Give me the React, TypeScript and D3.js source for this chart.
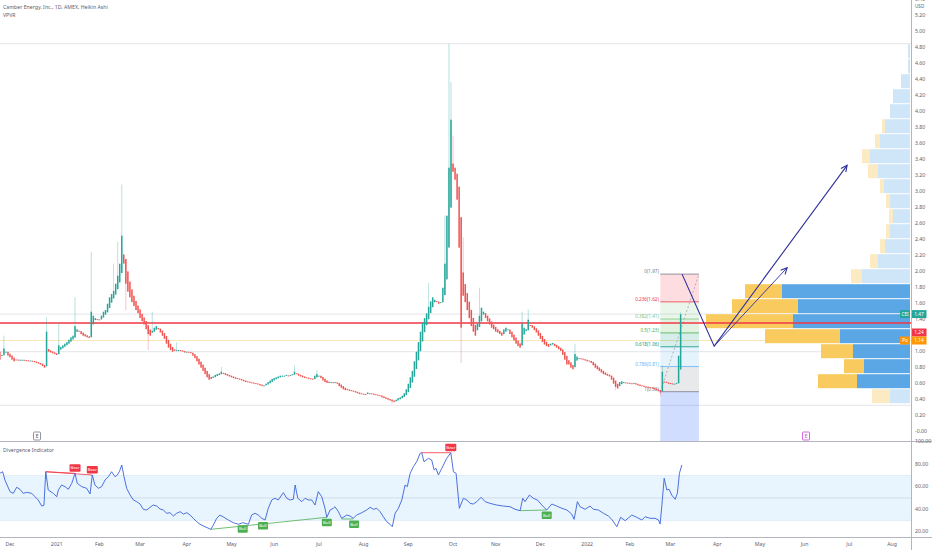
import * as d3 from 'd3'

const W = 932
const H = 550

// Heikin Ashi closes, one per trading day from 2020-11-23
const closes = [
  0.98, 0.90, 0.96, 1.04, 1.00, 0.95,
  0.93, 0.90, 0.88, 0.90, 0.89,
  0.90, 0.90, 0.89, 0.89, 0.88,
  0.89, 0.88, 0.87, 0.86, 0.85,
  0.84, 0.82, 0.80, 1.25, 1.00,
  0.99, 0.98, 0.97, 0.96, 1.08,
  1.06, 1.08, 1.10, 1.12, 1.15,
  1.18, 1.20, 1.32, 1.28, 1.25,
  1.22, 1.20, 1.19, 1.18, 1.17,
  1.50, 1.45, 1.42, 1.40, 1.40,
  1.45, 1.50, 1.52, 1.60, 1.68,
  1.72, 1.76, 1.85, 1.95, 2.10,
  2.45, 2.10, 1.85, 1.75, 1.68,
  1.62, 1.57, 1.52, 1.48, 1.42,
  1.38, 1.34, 1.28, 1.22, 1.20,
  1.26, 1.30, 1.32, 1.28, 1.24,
  1.20, 1.16, 1.10, 1.05, 1.02,
  1.00, 1.01, 1.02, 1.02, 1.01,
  1.00, 0.99, 1.00, 0.99, 0.98,
  0.95, 0.92, 0.88, 0.84, 0.80,
  0.76, 0.72, 0.68, 0.65, 0.66,
  0.69, 0.71, 0.72, 0.73, 0.75,
  0.73, 0.71, 0.70, 0.69, 0.68,
  0.67, 0.66, 0.66, 0.65, 0.64,
  0.63, 0.62, 0.62, 0.61, 0.61,
  0.60, 0.60, 0.59, 0.58, 0.57,
  0.58, 0.60, 0.62, 0.64, 0.66,
  0.67, 0.68, 0.69, 0.70, 0.70,
  0.70, 0.71, 0.70, 0.71, 0.72,
  0.75, 0.72, 0.70, 0.69, 0.68,
  0.67, 0.67, 0.66, 0.66, 0.65,
  0.70, 0.72, 0.70, 0.67, 0.64,
  0.62, 0.61, 0.61, 0.62, 0.61,
  0.62, 0.60, 0.57, 0.55, 0.53,
  0.52, 0.52, 0.51, 0.51, 0.50,
  0.49, 0.48, 0.47, 0.47, 0.47,
  0.47, 0.49, 0.48, 0.47, 0.46,
  0.46, 0.45, 0.45, 0.43, 0.42,
  0.41, 0.40, 0.39, 0.38, 0.37,
  0.40, 0.42, 0.43, 0.45, 0.48,
  0.53, 0.60, 0.68, 0.76, 0.88,
  1.00, 1.12, 1.25, 1.36, 1.42,
  1.48, 1.56, 1.63, 1.68, 1.65,
  1.62, 1.60, 1.62, 1.80, 2.10,
  2.70, 3.30, 3.90, 3.25, 3.15,
  2.90, 2.30, 1.30, 1.70, 1.62,
  1.52, 1.42, 1.32, 1.25, 1.20,
  1.35, 1.45, 1.55, 1.50, 1.42,
  1.38, 1.34, 1.30, 1.28, 1.25,
  1.24, 1.22, 1.20, 1.28, 1.30,
  1.28, 1.22, 1.18, 1.14, 1.10,
  1.07, 1.05, 1.35, 1.30, 1.28,
  1.40, 1.33, 1.30, 1.27, 1.24,
  1.20, 1.16, 1.12, 1.09, 1.07,
  1.06, 1.10, 1.11, 1.07, 1.05,
  1.03, 1.01, 0.96, 0.90, 0.84,
  0.84, 0.80, 0.78, 0.97, 0.94,
  0.92, 0.91, 0.90, 0.89, 0.88,
  0.88, 0.86, 0.83, 0.80, 0.78,
  0.76, 0.74, 0.72, 0.71, 0.70,
  0.69, 0.65, 0.60, 0.56, 0.54,
  0.62, 0.63, 0.62, 0.61, 0.61,
  0.60, 0.60, 0.61, 0.59, 0.58,
  0.57, 0.57, 0.56, 0.56, 0.55,
  0.55, 0.54, 0.53, 0.52, 0.51,
  0.49, 0.75, 0.62, 0.61, 0.60,
  0.60, 0.59, 0.60, 0.61, 0.95, 1.47,
]
const firstOpen = 1.02

// wick extremes [bar, price]
const highs: [number, number][] = [
  [3, 1.2], [24, 1.43], [30, 1.36], [38, 1.68], [46, 2.25], [57, 2.1], [59, 2.37],
  [61, 3.09], [76, 1.5], [88, 1.12], [110, 0.81], [146, 0.83], [157, 0.77],
  [212, 1.86], [220, 2.7], [222, 4.85], [223, 4.37], [224, 3.7], [229, 2.43],
  [237, 1.8], [258, 1.5], [261, 1.53], [284, 1.1], [327, 0.83], [336, 1.49],
]
const lows: [number, number][] = [
  [63, 1.52], [74, 1.02], [194, 0.35], [228, 0.86], [304, 0.52], [326, 0.45],
]

// divergence indicator [bar, value]
const osc: [number, number][] = [
  [1.1, 71.9], [2.4, 73.3], [3.5, 66.0], [6, 55.6], [7.6, 54.1], [9.3, 59.5], [10.9, 57.7],
  [12.5, 54.1], [14.2, 55.0], [16.7, 54.1], [18.3, 51.1], [19.9, 48.2], [21.6, 42.8],
  [22.7, 43.5], [23.6, 73.3], [24.8, 57.1], [27.3, 54.1], [29, 51.1], [29.8, 57.1],
  [31.4, 61.5], [33.1, 60.0], [34.7, 57.7], [36.4, 63.0], [38, 71.9], [39.1, 63.0],
  [41.3, 60.0], [43.7, 58.6], [45.4, 53.5], [46.5, 70.4], [47.8, 61.5], [49.5, 58.6],
  [51.1, 60.0], [52.8, 66.0], [54.4, 68.9], [56, 73.3], [57.7, 68.9], [58.8, 70.4],
  [59.8, 73.3], [61, 79.3], [62.1, 68.9], [63.4, 58.6], [65.1, 52.6], [66.7, 48.2],
  [68.4, 46.7], [70, 44.6], [71.6, 39.9], [73.3, 39.3], [74.9, 41.7], [76.5, 43.7],
  [78.2, 42.8], [79.8, 40.2], [81.4, 39.3], [83.1, 36.4], [84.7, 36.9], [86.4, 34.0],
  [88, 36.4], [89.7, 37.8], [91.3, 35.7], [93, 36.9], [94.6, 34.8], [96.2, 31.9],
  [97.9, 28.9], [99.5, 26.6], [102, 24.4], [104.8, 22.1], [106.1, 26.0], [107.7, 31.9],
  [109.3, 34.8], [111.3, 32.8], [113.4, 30.4], [115.9, 28.0], [118.4, 26.6], [120.5, 28.0],
  [121.7, 27.5], [123.3, 26.6], [124.9, 34.8], [126.6, 36.4], [128.2, 34.8], [129.9, 31.9],
  [131.5, 30.4], [133.1, 40.8], [134.8, 48.2], [136.4, 49.7], [138, 48.2], [140.5, 54.7],
  [142.2, 49.7], [143.8, 48.2], [145.4, 48.8], [146.3, 61.5], [147.6, 49.7], [149.6, 46.7],
  [151.2, 49.7], [152.8, 48.2], [154.5, 48.2], [156.1, 43.7], [157.7, 55.6], [159.4, 51.1],
  [161, 40.8], [161.9, 32.8], [163.5, 39.3], [165.1, 40.8], [165.9, 42.2], [167.6, 37.8],
  [169.2, 31.9], [171.7, 34.8], [173.3, 34.0], [174.9, 31.9], [176.6, 34.8], [179.1, 36.9],
  [181.5, 39.3], [183.2, 41.7], [184.8, 39.9], [186.5, 40.8], [188.1, 37.8], [189.7, 33.3],
  [191.4, 28.9], [193, 26.6], [194.1, 24.4], [195.5, 36.4], [197.1, 40.8], [198.8, 48.2],
  [200.4, 61.5], [201.5, 60.0], [202.9, 71.9], [204.5, 77.8], [206.1, 82.2], [207.8, 89.7],
  [208.6, 90.2], [209.7, 82.2], [211.9, 85.2], [213.5, 83.7], [214.7, 74.8], [215.6, 76.4],
  [216.8, 70.4], [218.5, 76.4], [220.9, 85.2], [222.9, 90.2], [224.2, 73.3], [225.5, 71.9],
  [227.1, 40.8], [229.1, 49.7], [230.8, 48.2], [232.4, 45.2], [234, 44.6], [235.7, 46.7],
  [237.8, 50.6], [239.8, 46.7], [242.2, 45.2], [245.5, 43.7], [248.8, 42.8], [252.1, 42.2],
  [254.5, 39.9], [257, 38.7], [258.3, 49.7], [259.4, 46.7], [261.6, 52.6], [263.5, 49.7],
  [265.5, 48.2], [267.7, 43.7], [270.1, 39.3], [272.6, 44.6], [275, 42.8], [277.5, 40.8],
  [280, 39.3], [282.4, 35.7], [283.6, 31.0], [285.2, 46.7], [286.5, 42.2], [289, 39.9],
  [291.4, 42.8], [293.1, 39.9], [295.5, 39.3], [298, 36.4], [300.4, 34.0], [302.1, 31.0],
  [304.6, 24.4], [306.5, 32.8], [308.7, 29.8], [312, 34.8], [314.4, 32.8], [316.9, 30.4],
  [318.5, 33.3], [321, 31.9], [323.4, 31.9], [325.1, 30.4], [325.9, 26.8], [326.7, 42.2],
  [327.9, 67.5], [329.2, 57.1], [330.3, 57.7], [331.6, 52.6], [333.3, 48.8], [334.4, 54.1],
  [335.4, 71.9], [336.6, 79.3],
]
const bearLines: [number, number, number, number][] = [
  [23.6, 73.3, 38, 71.9], [23.6, 73.3, 46.5, 70.4], [208.6, 90.2, 222.9, 90.2],
]
const bullLines: [number, number, number, number][] = [
  [104.8, 22.1, 161.9, 32.8], [169.2, 31.3, 174.9, 31.3], [257, 38.7, 270.1, 39.3],
]
const bearLabels: [number, number][] = [[38, 71.9], [46.5, 70.4], [222.9, 90.2]]
const bullLabels: [number, number][] = [[120.5, 27], [130.5, 30], [161.9, 32.8], [175.3, 31.3], [270.1, 39.3]]

// visible range volume profile, 24 rows from 0.35, up / down volume
const vpStart = 0.35
const vpStep = 0.1875
const vpUp = [20, 53, 46, 57, 70, 117, 112, 128, 48, 32, 25, 20, 17, 20, 26, 32, 40, 30, 25, 20, 17, 9, 2, 2]
const vpDown = [18, 39, 20, 32, 75, 87, 66, 37, 11, 8, 5, 4, 4, 4, 4, 10, 8, 5, 3, 0, 0, 0, 0, 0]
const vpValueArea = [1, 7]

const fibLevels = [0, 0.236, 0.382, 0.5, 0.618, 0.786, 1]
const fibColors = ['#787b86', '#f23645', '#81c784', '#4caf50', '#089981', '#64b5f6', '#787b86']
const fibHigh = 1.97
const fibLow = 0.5
const fibBars = [326, 345]

const wave1: [number, number][] = [[336.7, 1.97], [352.5, 1.07], [417.9, 3.33]]
const wave2: [number, number][] = [[352.5, 1.07], [388.4, 2.05]]
const earnings = [19.3, 397.7]

const lastPrice = 1.47
const redLine = 1.36
const redLabel = 1.24
const pocPrice = 1.14
const grayLines = [4.85, 1.47, 1.0, 0.33]

const oscTicks = [100, 80, 60, 40, 20]

const FONT = '"Noto Sans", "DejaVu Sans", sans-serif'
const TXT = '#5d606b'

function barDate(i: number) {
  const d = new Date(2020, 10, 23)
  let n = 0
  while (n < i) {
    d.setDate(d.getDate() + 1)
    const wd = d.getDay()
    if (wd !== 0 && wd !== 6) n++
  }
  return new Date(d)
}

export default function App() {
  const x = d3.scaleLinear().domain([6, 440]).range([10, 892])
  const yP = d3.scaleLinear().domain([0, 5.4]).range([431.7, -0.3])
  const yO = d3.scaleLinear().domain([20, 100]).range([531.7, 441.7])
  const axisX = 911.5
  const paneBottom = 441.5
  const vpRight = 910
  const vx = d3.scaleLinear().domain([0, 204]).range([0, 204])

  const highMap = new Map(highs)
  const lowMap = new Map(lows)
  // Heikin Ashi open: midpoint of the previous body
  const candles: { i: number; o: number; c: number; hi: number; lo: number; up: boolean }[] = []
  closes.forEach((c, i) => {
    const o = i === 0 ? firstOpen : (candles[i - 1].o + candles[i - 1].c) / 2
    const hi = Math.max(o, c, highMap.get(i) ?? 0)
    const lo = Math.min(o, c, lowMap.get(i) ?? 99)
    candles.push({ i, o, c, hi, lo, up: c >= o })
  })

  const boxPrices = [lastPrice, redLabel, pocPrice]
  // axis labels hidden under the price boxes, as on the platform
  const priceTicks = d3.range(0, 28).map(k => +(k * 0.2).toFixed(2))
    .filter(p => boxPrices.every(b => Math.abs(yP(p) - yP(b)) > 5))

  const monthTicks: { i: number; label: string }[] = []
  let prevMonth = 10
  for (let i = 0; i <= 445; i++) {
    const d = barDate(i)
    if (d.getMonth() !== prevMonth) {
      prevMonth = d.getMonth()
      monthTicks.push({ i, label: d.getMonth() === 0 ? String(d.getFullYear()) : d3.timeFormat('%b')(d) })
    }
  }

  const oscLine = d3.line<[number, number]>().x(d => x(d[0])).y(d => yO(d[1]))
  const waveLine = d3.line<[number, number]>().x(d => x(d[0])).y(d => yP(d[1]))

  const arrowHead = (pts: [number, number][]) => {
    const a = pts[pts.length - 2]
    const b = pts[pts.length - 1]
    const x1 = x(a[0]), y1 = yP(a[1]), x2 = x(b[0]), y2 = yP(b[1])
    const ang = Math.atan2(y2 - y1, x2 - x1)
    const L = 7
    const p1 = [x2 - L * Math.cos(ang - 0.45), y2 - L * Math.sin(ang - 0.45)]
    const p2 = [x2 - L * Math.cos(ang + 0.45), y2 - L * Math.sin(ang + 0.45)]
    return `M${p1[0]},${p1[1]}L${x2},${y2}L${p2[0]},${p2[1]}`
  }

  const fibPrices = fibLevels.map(l => fibHigh - l * (fibHigh - fibLow))
  const fx1 = x(fibBars[0])
  const fx2 = x(fibBars[1])

  const priceBox = (p: number, color: string, label: string, tag?: string) => (
    <g key={label + (tag ?? '')}>
      {tag && (
        <g>
          <rect x={900} y={yP(p) - 4} width={10} height={8} fill={color} />
          <text x={905} y={yP(p) + 0.3} fontSize={4.6} fill="#fff" textAnchor="middle" dominantBaseline="middle">{tag}</text>
        </g>
      )}
      <rect x={axisX} y={yP(p) - 4} width={15} height={8} fill={color} />
      <text x={axisX + 7.5} y={yP(p) + 0.3} fontSize={4.8} fill="#fff" textAnchor="middle" dominantBaseline="middle">{label}</text>
    </g>
  )

  return (
    <div style={{ position: 'absolute', left: 0, top: 0 }}>
      <svg width={W} height={H} style={{ display: 'block', fontFamily: FONT }}>
        <rect width={W} height={H} fill="#fff" />

        {/* horizontal reference lines */}
        {grayLines.map(p => (
          <line key={p} x1={0} x2={axisX} y1={yP(p)} y2={yP(p)} stroke="#e3e5ea" strokeWidth={1} />
        ))}
        <line x1={0} x2={axisX} y1={yP(pocPrice)} y2={yP(pocPrice)} stroke="#fbe6b5" strokeWidth={1} />

        {/* volume profile */}
        {vpUp.map((u, k) => {
          const top = yP(vpStart + (k + 1) * vpStep) + 0.5
          const h = yP(vpStart + k * vpStep) - yP(vpStart + (k + 1) * vpStep) - 1
          const inVA = k >= vpValueArea[0] && k <= vpValueArea[1]
          const bw = vx(u)
          const dw = vx(vpDown[k])
          return (
            <g key={k}>
              <rect x={vpRight - bw} y={top} width={bw} height={h} fill={inVA ? '#5ba7e6' : '#cfe6f9'} />
              <rect x={vpRight - bw - dw} y={top} width={dw} height={h} fill={inVA ? '#f9cb5e' : '#fcebc2'} />
            </g>
          )
        })}

        {/* fib retracement */}
        {fibPrices.slice(1).map((p, k) => (
          <rect key={k} x={fx1} width={fx2 - fx1} y={yP(fibPrices[k])} height={yP(p) - yP(fibPrices[k])}
            fill={fibColors[k + 1]} opacity={0.17} />
        ))}
        <rect x={fx1} width={fx2 - fx1} y={yP(fibLow)} height={paneBottom - yP(fibLow)} fill="#2962ff" opacity={0.22} />
        {fibPrices.map((p, k) => (
          <g key={k}>
            <line x1={fx1} x2={fx2} y1={yP(p)} y2={yP(p)} stroke={fibColors[k]} strokeWidth={0.8} />
            <text x={fx1 - 1.5} y={yP(p) - 1} fontSize={4.6} fill={fibColors[k]} textAnchor="end">
              {`${fibLevels[k]}(${p.toFixed(2)})`}
            </text>
          </g>
        ))}
        <line x1={fx1} y1={yP(fibLow)} x2={fx2} y2={yP(fibHigh)} stroke="#9598a1" strokeWidth={0.7} strokeDasharray="2,2" />

        {/* red horizontal line */}
        <line x1={0} x2={axisX} y1={yP(redLine)} y2={yP(redLine)} stroke="#f23645" strokeWidth={1.5} />

        {/* candles */}
        {candles.map(d => {
          const col = d.up ? '#26a69a' : '#ef5350'
          const top = yP(Math.max(d.o, d.c))
          const bot = yP(Math.min(d.o, d.c))
          return (
            <g key={d.i}>
              {(d.hi > Math.max(d.o, d.c) || d.lo < Math.min(d.o, d.c)) && (
                <line x1={x(d.i)} x2={x(d.i)} y1={yP(d.hi)} y2={yP(d.lo)} stroke={col} strokeWidth={0.6} opacity={0.55} />
              )}
              <rect x={x(d.i) - 0.75} width={1.5} y={top} height={Math.max(1, bot - top)} fill={col} />
            </g>
          )
        })}

        {/* projection arrows */}
        <path d={waveLine(wave1) ?? ''} fill="none" stroke="#2e2f9c" strokeWidth={1.1} />
        <path d={arrowHead(wave1)} fill="none" stroke="#2e2f9c" strokeWidth={1.1} />
        <path d={waveLine(wave2) ?? ''} fill="none" stroke="#2e2f9c" strokeWidth={0.9} />
        <path d={arrowHead(wave2)} fill="none" stroke="#2e2f9c" strokeWidth={1.1} />

        {/* earnings marks */}
        {earnings.map((e, k) => (
          <g key={e}>
            <rect x={x(e) - 3.5} y={432} width={7} height={8} rx={1} fill="#fff"
              stroke={k === 0 ? '#787b86' : '#c43fd6'} strokeWidth={0.8} />
            <text x={x(e)} y={436.3} fontSize={5} textAnchor="middle" dominantBaseline="middle"
              fill={k === 0 ? '#50535e' : '#c43fd6'}>E</text>
          </g>
        ))}

        {/* header */}
        <text x={3} y={9} fontSize={5.2} fill={TXT}>Camber Energy, Inc., 1D, AMEX, Heikin Ashi</text>
        <text x={3} y={17} fontSize={5.2} fill={TXT}>VPVR</text>

        {/* price axis */}
        {priceTicks.map(p => (
          <text key={p} x={915} y={yP(p)} fontSize={5.2} fill={TXT} dominantBaseline="middle">
            {p === 0 ? '-0.00' : p.toFixed(2)}
          </text>
        ))}
        <text x={915} y={8} fontSize={4.6} fill={TXT}>USD</text>
        {priceBox(lastPrice, '#26a69a', lastPrice.toFixed(2), 'CEI')}
        {priceBox(redLabel, '#f23645', redLabel.toFixed(2))}
        {priceBox(pocPrice, '#ff9800', pocPrice.toFixed(2), 'Po')}

        {/* lower pane */}
        <line x1={0} x2={W} y1={paneBottom} y2={paneBottom} stroke="#b2b5be" strokeWidth={1} />
        <rect x={0} width={axisX} y={yO(70)} height={yO(30) - yO(70)} fill="#2196f3" opacity={0.1} />
        <line x1={0} x2={axisX} y1={yO(70)} y2={yO(70)} stroke="#d6e6f7" strokeWidth={0.6} />
        <line x1={0} x2={axisX} y1={yO(30)} y2={yO(30)} stroke="#d6e6f7" strokeWidth={0.6} />
        <line x1={0} x2={axisX} y1={yO(50)} y2={yO(50)} stroke="#c3cfdc" strokeWidth={0.6} />
        <text x={3} y={451.5} fontSize={5.2} fill={TXT}>Divergence Indicator</text>
        {bearLines.map((b, k) => (
          <line key={k} x1={x(b[0])} y1={yO(b[1])} x2={x(b[2])} y2={yO(b[3])} stroke="#f23645" strokeWidth={0.8} />
        ))}
        {bullLines.map((b, k) => (
          <line key={k} x1={x(b[0])} y1={yO(b[1])} x2={x(b[2])} y2={yO(b[3])} stroke="#4caf50" strokeWidth={0.8} />
        ))}
        <path d={oscLine(osc) ?? ''} fill="none" stroke="#3a62d8" strokeWidth={0.9} />
        {bearLabels.map((b, k) => (
          <g key={k}>
            <rect x={x(b[0]) - 5.5} y={yO(b[1]) - 9} width={11} height={7.5} rx={1} fill="#f23645" />
            <text x={x(b[0])} y={yO(b[1]) - 5.1} fontSize={4.2} fill="#fff" textAnchor="middle" dominantBaseline="middle">Bear</text>
          </g>
        ))}
        {bullLabels.map((b, k) => (
          <g key={k}>
            <rect x={x(b[0]) - 5} y={yO(b[1]) + 1.5} width={10} height={7.5} rx={1} fill="#4caf50" />
            <text x={x(b[0])} y={yO(b[1]) + 5.4} fontSize={4.2} fill="#fff" textAnchor="middle" dominantBaseline="middle">Bull</text>
          </g>
        ))}
        {oscTicks.map(t => (
          <text key={t} x={915} y={yO(t)} fontSize={5.2} fill={TXT} dominantBaseline="middle">{t.toFixed(2)}</text>
        ))}

        {/* time axis */}
        <line x1={0} x2={W} y1={537.5} y2={537.5} stroke="#b2b5be" strokeWidth={1} />
        <line x1={axisX} x2={axisX} y1={0} y2={H} stroke="#b2b5be" strokeWidth={1} />
        {monthTicks.map(t => (
          <text key={t.i} x={x(t.i)} y={545} fontSize={5.2} fill={TXT} textAnchor="middle" dominantBaseline="middle">{t.label}</text>
        ))}
      </svg>
    </div>
  )
}
